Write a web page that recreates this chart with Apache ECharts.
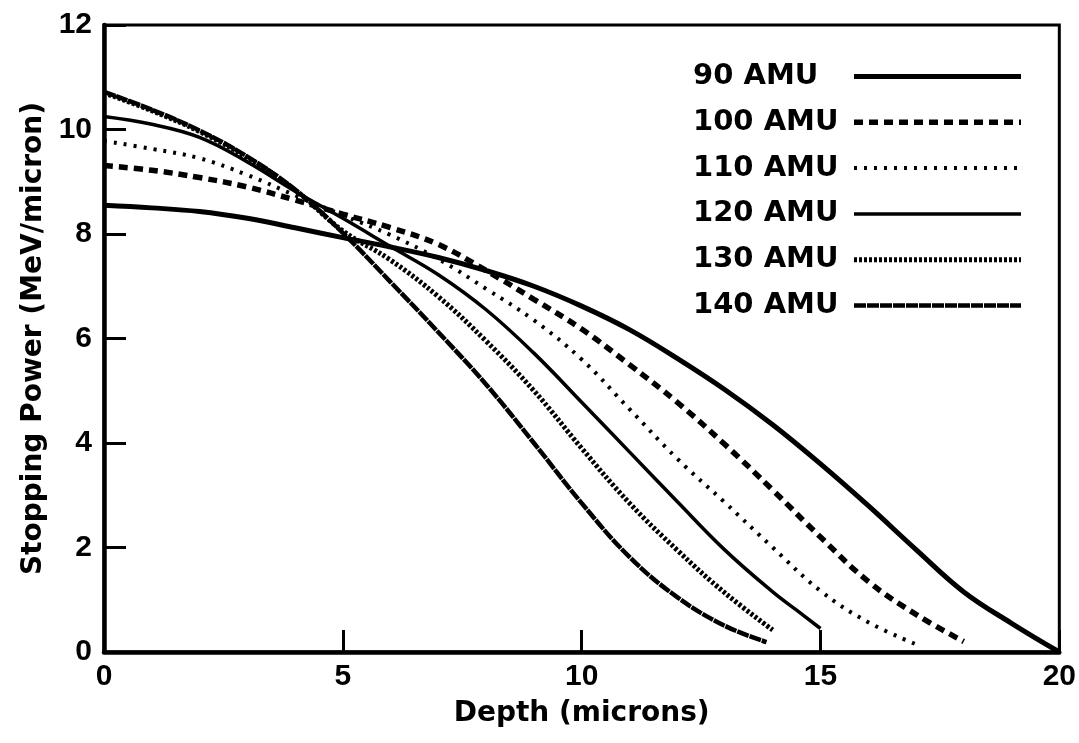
<!DOCTYPE html>
<html>
<head>
<meta charset="utf-8">
<script src="https://cdn.jsdelivr.net/npm/echarts@6/dist/echarts.min.js"></script>
<style>
  html, body { margin: 0; padding: 0; background: #ffffff; }
  #chart { width: 1079px; height: 743px; }
</style>
</head>
<body>
<div id="chart"></div>
<script>
// ---- data ----
const xTicks = [0, 5, 10, 15, 20];
const yTicks = [0, 2, 4, 6, 8, 10, 12];

const depth90  = [0,1,2,3,4,5,6,7,8,9,10,11,12,13,14,15,16,17,18,19,20];
const power90  = [8.55,8.5,8.43,8.3,8.12,7.93,7.75,7.55,7.3,7.0,6.62,6.17,5.62,5.02,4.35,3.6,2.8,1.96,1.15,0.55,0.0];

const depth100 = [0,1,2,3,4,5,6,7,8,9,10,11,12,13,14,15,16,17,18];
const power100 = [9.31,9.22,9.08,8.9,8.65,8.38,8.12,7.8,7.3,6.75,6.18,5.5,4.78,3.97,3.1,2.2,1.35,0.72,0.2];

const depth110 = [0,1,2,3,4,5,6,7,8,9,10,11,12,13,14,15,16,17.1];
const power110 = [9.78,9.63,9.45,9.13,8.74,8.36,7.98,7.52,6.95,6.35,5.6,4.65,3.7,2.86,2.0,1.17,0.57,0.11];

const depth120 = [0,1,2,3,4,5,6,7,8,9,10,11,12,13,14,14.5,15];
const power120 = [10.25,10.1,9.85,9.38,8.82,8.3,7.76,7.22,6.55,5.72,4.78,3.83,2.88,1.95,1.15,0.8,0.45];

const depth130 = [0,1,2,3,4,5,6,7,8,9,10,11,12,13,14];
const power130 = [10.7,10.36,9.96,9.46,8.84,8.06,7.5,6.8,5.95,5.0,3.9,2.85,1.95,1.13,0.42];

const depth140 = [0,1,2,3,4,5,6,7,8,9,10,11,12,13,13.87];
const power140 = [10.72,10.38,9.98,9.48,8.85,8.02,7.08,6.12,5.12,4.0,2.85,1.82,1.05,0.5,0.19];

const seriesNames = ['90 AMU','100 AMU','110 AMU','120 AMU','130 AMU','140 AMU'];

function pairs(xs, ys) { return xs.map((x, i) => [x, ys[i]]); }

const styles = [
  { width: 5,   type: 'solid' },
  { width: 5.5, type: [9, 6] },
  { width: 4,   type: [3, 7] },
  { width: 3.5, type: 'solid' },
  { width: 5,   type: [3, 2] },
  { width: 4.5, type: [12, 1] }
];
const dataSets = [
  pairs(depth90, power90), pairs(depth100, power100), pairs(depth110, power110),
  pairs(depth120, power120), pairs(depth130, power130), pairs(depth140, power140)
];

const chart = echarts.init(document.getElementById('chart'), null, { renderer: 'canvas' });

const tickFont = { fontFamily: 'Liberation Sans', fontWeight: 'bold', fontSize: 30, color: '#000' };
const titleFont = { fontFamily: 'DejaVu Sans', fontWeight: 'bold', fontSize: 28, color: '#000' };

chart.setOption({
  animation: false,
  backgroundColor: '#ffffff',
  grid: {
    left: 104, right: 19, top: 25, bottom: 91,
    show: true, borderColor: '#000', borderWidth: 3, backgroundColor: 'transparent'
  },
  legend: {
    data: seriesNames,
    orient: 'vertical',
    left: 688,
    top: 57,
    align: 'right',
    itemWidth: 167,
    itemHeight: 4,
    itemGap: 16.8,
    itemStyle: { opacity: 0 },
    lineStyle: { width: 'inherit' },
    formatter: '{a|{name}}',
    textStyle: {
      rich: {
        a: { width: 156, align: 'left', lineHeight: 30,
             fontFamily: 'DejaVu Sans', fontWeight: 'bold', fontSize: 29, color: '#000' }
      }
    }
  },
  xAxis: {
    type: 'value', min: 0, max: 20, interval: 5,
    name: 'Depth (microns)', nameLocation: 'middle', nameGap: 48,
    nameTextStyle: titleFont,
    axisLine: { show: true, onZero: false, lineStyle: { color: '#000', width: 4.5 } },
    axisTick: { show: true, inside: true, length: 22, lineStyle: { color: '#000', width: 3 } },
    axisLabel: Object.assign({ margin: 10 }, tickFont),
    splitLine: { show: false }
  },
  yAxis: {
    type: 'value', min: 0, max: 12, interval: 2,
    name: 'Stopping Power (MeV/micron)', nameLocation: 'middle', nameGap: 52,
    nameTextStyle: titleFont,
    axisLine: { show: true, onZero: false, lineStyle: { color: '#000', width: 4.5 } },
    axisTick: { show: true, inside: true, length: 22, lineStyle: { color: '#000', width: 3 } },
    axisLabel: Object.assign({ margin: 12 }, tickFont),
    splitLine: { show: false }
  },
  series: seriesNames.map((name, i) => ({
    name: name,
    type: 'line',
    data: dataSets[i],
    smooth: 0.4,
    symbol: 'circle',
    symbolSize: 1,
    showSymbol: false,
    itemStyle: { color: '#000' },
    lineStyle: { color: '#000', width: styles[i].width, type: styles[i].type, cap: 'butt' },
    emphasis: { disabled: true }
  }))
});
</script>
</body>
</html>
